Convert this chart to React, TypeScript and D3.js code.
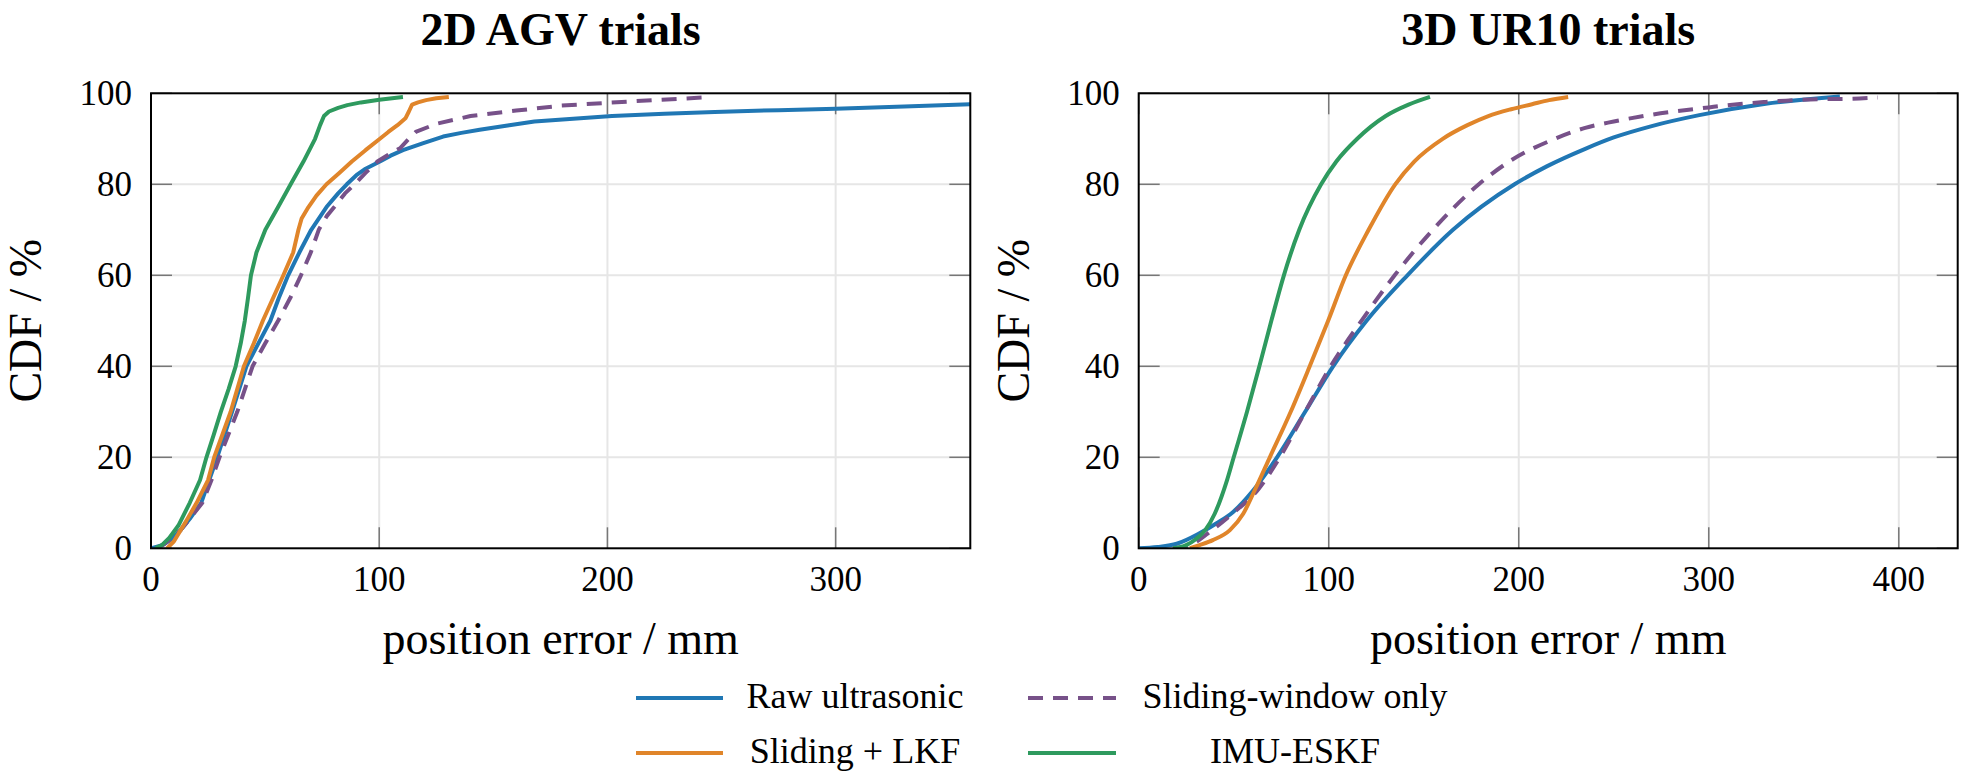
import React from "react";
import * as d3 from "d3";

// ---------- data ----------
const seriesNames = ["Raw ultrasonic", "Sliding-window only", "Sliding + LKF", "IMU-ESKF"];
const seriesColors = ["#2077b4", "#775189", "#e0852a", "#2e9a5e"];
const yTicks = [0, 20, 40, 60, 80, 100];
const agvXTicks = [0, 100, 200, 300];
const urXTicks = [0, 100, 200, 300, 400];

// 2D AGV trials
const agvRawX = [0, 5, 9, 13, 17, 22, 25.5, 29, 35.5, 41.8, 47, 52.3, 56, 60.1, 65, 70.2, 76.9, 82, 85.8, 90, 93.6, 100.3, 105, 110.4, 119, 128, 136, 144, 157, 168, 185, 202, 225, 247, 275, 300, 330, 359];
const agvRawY = [0, 0.7, 2, 4, 6.5, 10, 15, 20, 30, 40, 45, 50, 55, 60, 65, 70, 75, 78, 80, 82, 83.3, 85, 86.3, 87.5, 89, 90.5, 91.3, 92, 93, 93.8, 94.4, 95, 95.5, 95.9, 96.3, 96.6, 97.1, 97.6];
const agvSwX = [3, 6, 9, 13, 17, 22.5, 26.5, 30, 37.8, 44.5, 50, 55.7, 61, 65.7, 70, 73.5, 77, 80.3, 85, 89.2, 94, 99.2, 104, 109.3, 113, 116, 125, 140, 160, 180, 200, 220, 243];
const agvSwY = [0, 1, 2.2, 4, 6.5, 10, 15, 20, 30, 40, 45, 50, 55, 60, 65, 70, 73, 75, 78, 80, 82.5, 85, 86.5, 88, 90, 91.5, 93.3, 95, 96.2, 97.3, 97.9, 98.5, 99.1];
const agvLkfX = [7, 10, 13, 16, 20, 25, 27.7, 34.9, 40.7, 45, 49, 53.5, 58, 62.3, 64.6, 66, 69, 72.5, 76.9, 82.5, 88, 94, 100.3, 104, 108, 111.5, 113, 114.4, 117, 120.5, 125, 130.5];
const agvLkfY = [0, 1.5, 4, 6.5, 10, 15, 20, 30, 40, 45, 50, 55, 60, 65, 70, 72.5, 75, 77.5, 80, 82.5, 85, 87.5, 90, 91.5, 93, 94.5, 96, 97.5, 98, 98.5, 98.9, 99.2];
const agvImuX = [2, 5, 8, 12, 17, 21.5, 24.3, 27.5, 30.6, 34, 37.1, 39.3, 41.1, 42.5, 43.8, 46.2, 50.1, 55.7, 61.2, 66.8, 71.9, 74.1, 75.8, 78, 82, 86, 92, 100, 110.4];
const agvImuY = [0, 0.8, 2.3, 5, 10, 15, 20, 25, 30, 35, 40, 45, 50, 55, 60, 65, 70, 75, 80, 85, 90, 93, 95, 96, 96.8, 97.4, 98, 98.6, 99.2];

// 3D UR10 trials
const urRawX = [0, 10, 20, 32, 41, 49.7, 60.2, 72.8, 87.6, 102.3, 119.9, 141.4, 165.4, 197.8, 215, 235, 250, 270, 295, 330, 369];
const urRawY = [0, 0.3, 1, 3.3, 5.5, 8, 12.7, 20, 30, 40, 50, 60, 70, 80, 84, 87.8, 90.3, 92.8, 95.2, 97.7, 99.3];
const urSwX = [18, 27, 38.6, 49, 63, 74.3, 87.6, 101, 117.2, 134.7, 154.8, 179, 195, 219, 235, 250, 270, 300, 315, 330, 345, 360, 375, 389];
const urSwY = [0, 0.7, 4, 7.5, 13, 20, 30, 40, 50, 60, 70, 80, 85, 90, 92.4, 93.8, 95.3, 96.9, 97.6, 98.1, 98.5, 98.7, 98.8, 99.1];
const urLkfX = [27, 32, 39, 48, 55, 61, 69, 80, 90, 99.7, 109, 121, 135, 145, 160, 173, 184, 196, 207, 216, 226];
const urLkfY = [0, 0.7, 1.8, 4, 7.6, 12.7, 20, 30, 40, 50, 60, 70, 80, 85, 90, 93, 95, 96.5, 97.6, 98.5, 99.2];
const urImuX = [18, 25, 30, 35, 40, 46.5, 50, 57, 63.5, 69.8, 76.4, 84.5, 96, 104, 115, 130, 142, 153.3];
const urImuY = [0, 0.7, 2, 4, 7.6, 15, 20, 30, 40, 50, 60, 70, 80, 85, 90, 95, 97.5, 99.2];

const zip = (xs: number[], ys: number[]) => xs.map((x, i) => [x, ys[i]] as [number, number]);

const panels = [
  {
    title: "2D AGV trials",
    left: 151,
    right: 970.3,
    xMax: 359,
    xTicks: agvXTicks,
    ylabX: 41,
    curve: d3.curveLinear,
    series: [zip(agvRawX, agvRawY), zip(agvSwX, agvSwY), zip(agvLkfX, agvLkfY), zip(agvImuX, agvImuY)],
  },
  {
    title: "3D UR10 trials",
    left: 1138.7,
    right: 1957.7,
    xMax: 431,
    xTicks: urXTicks,
    ylabX: 1029,
    curve: d3.curveMonotoneX,
    series: [zip(urRawX, urRawY), zip(urSwX, urSwY), zip(urLkfX, urLkfY), zip(urImuX, urImuY)],
  },
];

const TOP = 93.3;
const BOTTOM = 548.3;
const FONT = "'Liberation Serif', 'Times New Roman', serif";

function Panel({ p }: { p: (typeof panels)[number] }) {
  const x = d3.scaleLinear().domain([0, p.xMax]).range([p.left, p.right]);
  const y = d3.scaleLinear().domain([0, 100]).range([BOTTOM, TOP]);
  const tickLen = 21;
  const cx = (p.left + p.right) / 2;
  return (
    <g>
      {/* grid */}
      {p.xTicks.filter((t) => t > 0).map((t) => (
        <line key={"gx" + t} x1={x(t)} x2={x(t)} y1={TOP} y2={BOTTOM} stroke="#e6e6e6" strokeWidth={2} />
      ))}
      {yTicks.filter((t) => t > 0 && t < 100).map((t) => (
        <line key={"gy" + t} x1={p.left} x2={p.right} y1={y(t)} y2={y(t)} stroke="#e6e6e6" strokeWidth={2} />
      ))}
      {/* ticks */}
      {p.xTicks.map((t) => (
        <g key={"tx" + t}>
          <line x1={x(t)} x2={x(t)} y1={BOTTOM} y2={BOTTOM - tickLen} stroke="#777" strokeWidth={1.5} />
          <line x1={x(t)} x2={x(t)} y1={TOP} y2={TOP + tickLen} stroke="#777" strokeWidth={1.5} />
          <text x={x(t)} y={591} textAnchor="middle" fontSize={35} fontFamily={FONT}>{t}</text>
        </g>
      ))}
      {yTicks.map((t) => (
        <g key={"ty" + t}>
          <line x1={p.left} x2={p.left + tickLen} y1={y(t)} y2={y(t)} stroke="#777" strokeWidth={1.5} />
          <line x1={p.right} x2={p.right - tickLen} y1={y(t)} y2={y(t)} stroke="#777" strokeWidth={1.5} />
          <text x={p.left - 19} y={y(t) + 12} textAnchor="end" fontSize={35} fontFamily={FONT}>{t}</text>
        </g>
      ))}
      {/* series */}
      <defs>
        <clipPath id={"clip" + Math.round(p.left)}>
          <rect x={p.left} y={TOP - 4} width={p.right - p.left} height={BOTTOM - TOP + 4} />
        </clipPath>
      </defs>
      <g clipPath={`url(#clip${Math.round(p.left)})`}>
        {p.series.map((s, i) => {
          const line = d3.line<[number, number]>().x((d) => x(d[0])).y((d) => y(d[1])).curve(p.curve);
          return (
            <path
              key={i}
              d={line(s) || ""}
              fill="none"
              stroke={seriesColors[i]}
              strokeWidth={4}
              strokeDasharray={i === 1 ? "15 10" : undefined}
              strokeLinejoin="round"
            />
          );
        })}
      </g>
      {/* frame */}
      <rect x={p.left} y={TOP} width={p.right - p.left} height={BOTTOM - TOP} fill="none" stroke="#000" strokeWidth={2} />
      {/* labels */}
      <text x={cx} y={45} textAnchor="middle" fontSize={46} fontWeight="bold" fontFamily={FONT}>{p.title}</text>
      <text x={cx} y={654} textAnchor="middle" fontSize={46} fontFamily={FONT}>position error / mm</text>
      <text
        transform={`translate(${p.ylabX},${(TOP + BOTTOM) / 2}) rotate(-90)`}
        textAnchor="middle"
        fontSize={46}
        fontFamily={FONT}
      >
        CDF / %
      </text>
    </g>
  );
}

function Legend() {
  const cols = [
    { lx1: 636, lx2: 723, tc: 855 },
    { lx1: 1028, lx2: 1116, tc: 1295 },
  ];
  const rows = [698, 753];
  const order = [0, 1, 2, 3];
  return (
    <g>
      {order.map((si, k) => {
        const c = cols[k % 2];
        const r = rows[Math.floor(k / 2)];
        return (
          <g key={si}>
            <line
              x1={c.lx1}
              x2={c.lx2}
              y1={r}
              y2={r}
              stroke={seriesColors[si]}
              strokeWidth={4}
              strokeDasharray={si === 1 ? "15 10" : undefined}
            />
            <text x={c.tc} y={r + 10} textAnchor="middle" fontSize={36} fontFamily={FONT}>
              {seriesNames[si]}
            </text>
          </g>
        );
      })}
    </g>
  );
}

export default function App() {
  return (
    <svg
      width={1968}
      height={782}
      viewBox="0 0 1968 782"
      style={{ position: "absolute", left: 0, top: 0, background: "#fff" }}
    >
      <rect width={1968} height={782} fill="#fff" />
      {panels.map((p) => (
        <Panel key={p.title} p={p} />
      ))}
      <Legend />
    </svg>
  );
}
